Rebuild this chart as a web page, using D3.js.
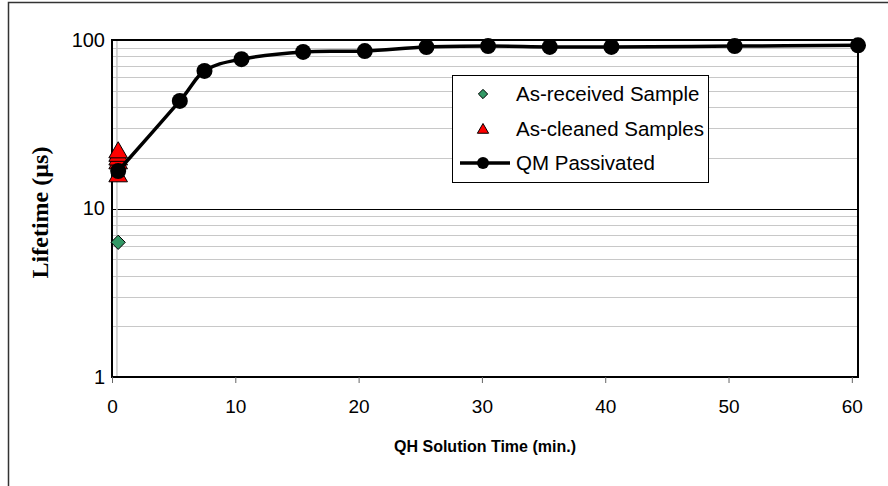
<!DOCTYPE html>
<html>
<head>
<meta charset="utf-8">
<script src="https://cdn.jsdelivr.net/npm/d3@7"></script>
<style>
  body { margin: 0; background: #fff; }
  text { font-family: Arial, "Liberation Sans", sans-serif; }
</style>
</head>
<body>
<div id="chart"></div>
<script>
// data
const qmTimes = [0.5, 5.5, 7.5, 10.5, 15.5, 20.5, 25.5, 30.5, 35.5, 40.5, 50.5, 60.5];
const qmLifetime = [16.7, 43.5, 65.5, 77, 85, 86, 90.8, 92, 91, 91, 92, 93];
const cleanedTimes = [0.5, 0.5, 0.5, 0.5, 0.5];
const cleanedLifetime = [15.5, 18.5, 19.5, 20.5, 21.5];
const receivedTimes = [0.5];
const receivedLifetime = [6.3];
const xTicks = [0, 10, 20, 30, 40, 50, 60];
const yTicks = [1, 10, 100];
const legendLabels = ['As-received Sample', 'As-cleaned Samples', 'QM Passivated'];

const width = 888, height = 486;
const plot = { left: 112, top: 40, right: 858, bottom: 377 };

const svg = d3.select('#chart')
  .append('svg')
  .attr('width', width)
  .attr('height', height);

// outer chart frame (runs off the right and bottom)
svg.append('rect')
  .attr('x', 8.5).attr('y', 2.5)
  .attr('width', 900).attr('height', 500)
  .attr('fill', 'none').attr('stroke', '#333').attr('stroke-width', 1.5);

const x = d3.scaleLinear().domain([0, 60.5]).range([plot.left, plot.right]);
const y = d3.scaleLog().domain([1, 100]).range([plot.bottom, plot.top]);

// minor gridlines
const minor = [];
for (let dec = 1; dec < 100; dec *= 10) {
  for (let k = 2; k <= 9; k++) minor.push(dec * k);
}
svg.append('g').selectAll('line')
  .data(minor)
  .enter()
  .append('line')
  .attr('x1', plot.left).attr('x2', plot.right)
  .attr('y1', d => Math.round(y(d)) + 0.5).attr('y2', d => Math.round(y(d)) + 0.5)
  .attr('stroke', '#c8c8c8').attr('stroke-width', 1.2);

// major gridline
svg.append('g').selectAll('line')
  .data(yTicks.slice(1, -1))
  .enter()
  .append('line')
  .attr('x1', plot.left).attr('x2', plot.right)
  .attr('y1', d => Math.round(y(d)) + 0.5).attr('y2', d => Math.round(y(d)) + 0.5)
  .attr('stroke', '#000').attr('stroke-width', 1);

// light vertical line at the first sample time
svg.append('line')
  .attr('x1', x(0.4)).attr('x2', x(0.4))
  .attr('y1', plot.top).attr('y2', plot.bottom)
  .attr('stroke', '#c8c8c8').attr('stroke-width', 1.5);

// plot frame
svg.append('rect')
  .attr('x', plot.left).attr('y', plot.top)
  .attr('width', plot.right - plot.left).attr('height', plot.bottom - plot.top)
  .attr('fill', 'none').attr('stroke', '#000').attr('stroke-width', 2);

// x axis
const xAxis = svg.append('g')
  .attr('transform', 'translate(0,' + plot.bottom + ')')
  .call(d3.axisBottom(x).tickValues(xTicks).tickSize(6).tickPadding(17));
xAxis.select('.domain').remove();
xAxis.selectAll('line').attr('stroke', '#666');
xAxis.selectAll('text')
  .attr('font-size', 19).attr('fill', '#000')
  .attr('font-family', 'Arial, "Liberation Sans", sans-serif');

// y axis
const yAxis = svg.append('g')
  .attr('transform', 'translate(' + plot.left + ',0)')
  .call(d3.axisLeft(y).tickValues(yTicks).tickFormat(d3.format('d')).tickSize(0).tickPadding(7));
yAxis.select('.domain').remove();
yAxis.selectAll('text')
  .attr('font-size', 20).attr('fill', '#000')
  .attr('font-family', 'Arial, "Liberation Sans", sans-serif');

// axis titles
svg.append('text')
  .attr('x', (plot.left + plot.right) / 2)
  .attr('y', 452)
  .attr('text-anchor', 'middle')
  .attr('font-size', 16).attr('font-weight', 'bold')
  .text('QH Solution Time (min.)');

svg.append('text')
  .attr('transform', 'translate(48,' + ((plot.top + plot.bottom) / 2 + 4) + ') rotate(-90)')
  .attr('text-anchor', 'middle')
  .attr('font-size', 24).attr('font-weight', 'bold')
  .style('font-family', '"Liberation Serif", "Times New Roman", serif')
  .text('Lifetime (\u00b5s)');

// QM passivated line (smoothed like the spreadsheet)
const qmData = qmTimes.map((t, i) => ({ t: t, v: qmLifetime[i] }));
const line = d3.line()
  .x(d => x(d.t))
  .y(d => y(d.v))
  .curve(d3.curveCardinal.tension(0));

// as-cleaned triangles
const tri = d3.symbol().type(d3.symbolTriangle).size(150);
const cleanedData = cleanedTimes.map((t, i) => ({ t: t, v: cleanedLifetime[i] }));
svg.append('g').selectAll('path')
  .data(cleanedData)
  .enter()
  .append('path')
  .attr('d', tri)
  .attr('transform', d => 'translate(' + x(d.t) + ',' + y(d.v) + ')')
  .attr('fill', '#ff0000').attr('stroke', '#000').attr('stroke-width', 1);

svg.append('path')
  .datum(qmData)
  .attr('d', line)
  .attr('fill', 'none')
  .attr('stroke', '#000')
  .attr('stroke-width', 3.5);

svg.append('g').selectAll('circle')
  .data(qmData)
  .enter()
  .append('circle')
  .attr('cx', d => x(d.t))
  .attr('cy', d => y(d.v))
  .attr('r', 8)
  .attr('fill', '#000');

// as-received diamond
const diamond = d3.symbol().type(d3.symbolDiamond2).size(130);
const receivedData = receivedTimes.map((t, i) => ({ t: t, v: receivedLifetime[i] }));
svg.append('g').selectAll('path')
  .data(receivedData)
  .enter()
  .append('path')
  .attr('d', diamond)
  .attr('transform', d => 'translate(' + x(d.t) + ',' + y(d.v) + ')')
  .attr('fill', '#339966').attr('stroke', '#000').attr('stroke-width', 1);

// legend
const legend = svg.append('g').attr('transform', 'translate(452,75)');
legend.append('rect')
  .attr('x', 0.5).attr('y', 0.5)
  .attr('width', 256).attr('height', 107)
  .attr('fill', '#fff').attr('stroke', '#000').attr('stroke-width', 1);

const rowY = [19, 54, 88];
legend.selectAll('text')
  .data(legendLabels)
  .enter()
  .append('text')
  .attr('x', 64)
  .attr('y', (d, i) => rowY[i])
  .attr('dy', '0.35em')
  .attr('font-size', 20.5)
  .text(d => d);

legend.append('path')
  .attr('d', d3.symbol().type(d3.symbolDiamond2).size(55))
  .attr('transform', 'translate(31,' + rowY[0] + ')')
  .attr('fill', '#339966').attr('stroke', '#000').attr('stroke-width', 1);
legend.append('path')
  .attr('d', d3.symbol().type(d3.symbolTriangle).size(55))
  .attr('transform', 'translate(31,' + (rowY[1] + 1) + ')')
  .attr('fill', '#ff0000').attr('stroke', '#000').attr('stroke-width', 1);
legend.append('line')
  .attr('x1', 8).attr('x2', 58)
  .attr('y1', rowY[2]).attr('y2', rowY[2])
  .attr('stroke', '#000').attr('stroke-width', 3.5);
legend.append('circle')
  .attr('cx', 31).attr('cy', rowY[2]).attr('r', 6).attr('fill', '#000');
</script>
</body>
</html>
